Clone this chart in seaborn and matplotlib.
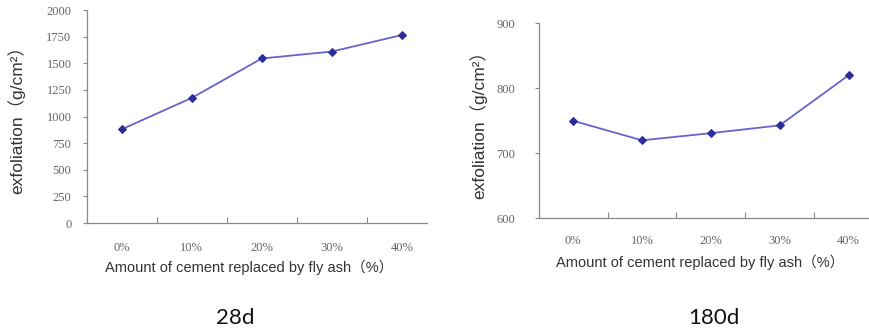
import matplotlib
matplotlib.use("Agg")
import matplotlib.pyplot as plt
import seaborn as sns
import pandas as pd
from matplotlib.ticker import FixedLocator

categories = ["0%", "10%", "20%", "30%", "40%"]
values_28d = [880, 1175, 1545, 1610, 1765]
values_180d = [750, 720, 731, 743, 820]
yticks_28d = [0, 250, 500, 750, 1000, 1250, 1500, 1750, 2000]
yticks_180d = [600, 700, 800, 900]
panel_titles = ["28d", "180d"]
xlabel_text = "Amount of cement replaced by fly ash\uff08%\uff09"
ylabel_text = "exfoliation\uff08g/cm\u00b2\uff09"

sns.set_theme(style="white")
plt.rcParams['font.family'] = ['Liberation Sans', 'Noto Sans CJK SC', 'DejaVu Sans']

fig = plt.figure(figsize=(8.69, 3.33), dpi=100)

line_color = "#6464cc"
marker_color = "#2d2d9a"
axis_color = "#8a8a8a"
tick_font = dict(family="Liberation Serif", size=9, color="#666666")
xlabel_font = dict(family=['Liberation Sans', 'Noto Sans CJK SC'], size=10.5, color="#333333")
ylabel_font = dict(family=['Liberation Sans', 'Noto Sans CJK SC'], size=12.5, color="#333333")

def draw(ax, vals, yticks, xlim, xtickpad, ytickpad, xlabpos, ylabpos):
    df = pd.DataFrame({"cat": categories, "val": vals})
    sns.lineplot(data=df, x="cat", y="val", ax=ax, color=line_color, lw=1.3,
                 marker="D", markersize=4, markerfacecolor=marker_color,
                 markeredgecolor=marker_color, sort=False)
    ax.set_ylim(yticks[0], yticks[-1])
    ax.set_xlim(*xlim)
    ax.set_yticks(yticks)
    ax.set_yticklabels([str(t) for t in yticks], **tick_font)
    ax.set_xticks(range(len(categories)))
    ax.set_xticklabels(categories, **tick_font)
    ax.xaxis.set_minor_locator(FixedLocator([i + 0.5 for i in range(len(categories) - 1)]))
    ax.tick_params(axis="x", which="major", length=0, pad=xtickpad)
    ax.tick_params(axis="x", which="minor", direction="in", length=4, color=axis_color, width=0.8, bottom=True)
    ax.tick_params(axis="y", which="major", direction="out", length=3, color=axis_color, width=0.8, pad=ytickpad, left=True)
    for s in ["top", "right"]:
        ax.spines[s].set_visible(False)
    for s in ["left", "bottom"]:
        ax.spines[s].set_color(axis_color)
        ax.spines[s].set_linewidth(0.9)
    ax.set_xlabel(xlabel_text, **xlabel_font)
    ax.xaxis.set_label_coords(*xlabpos, transform=fig.transFigure)
    ax.set_ylabel(ylabel_text, **ylabel_font)
    ax.yaxis.label.set_va("center")
    ax.yaxis.set_label_coords(*ylabpos, transform=fig.transFigure)
    ax.grid(False)

ax1 = fig.add_axes([0.0998, 0.3303, 0.3916, 0.6396])
draw(ax1, values_28d, yticks_28d, (-0.5, 4.36), 14, 8, (249 / 869, 1 - 260 / 333), (16 / 869, 1 - 116 / 333))

ax2 = fig.add_axes([0.6199, 0.3444, 0.3962, 0.5856])
draw(ax2, values_180d, yticks_180d, (-0.5, 4.5), 12, 14, (700 / 869, 1 - 255 / 333), (478 / 869, 1 - 121 / 333))

fig.text(235 / 869, 1 - 318 / 333, panel_titles[0], family="Lato", size=16, ha="center", va="center", color="#111111")
fig.text(714 / 869, 1 - 318 / 333, panel_titles[1], family="Lato", size=16, ha="center", va="center", color="#111111")

fig.savefig("out.png", dpi=100)
